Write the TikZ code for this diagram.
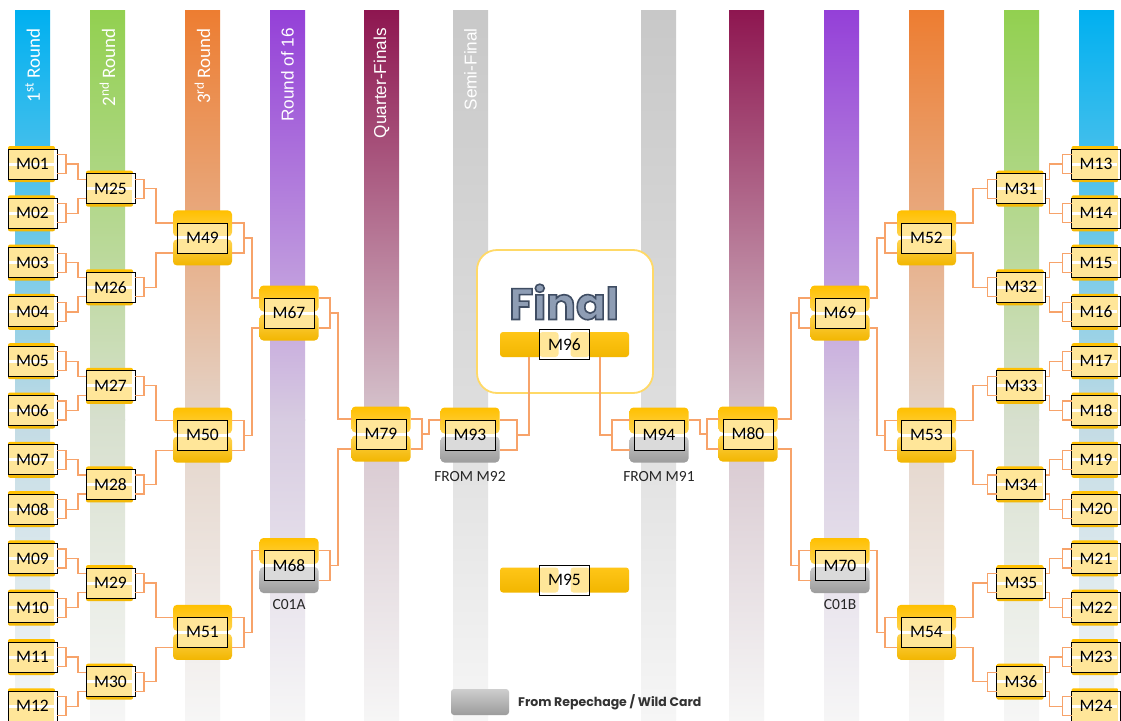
\documentclass[tikz,border=0pt]{standalone}
\usepackage{fontspec}
\setmainfont{Carlito}
\newfontfamily\arialf{Liberation Sans}
\newfontfamily\popf{Poppins}
\usetikzlibrary{calc}
\definecolor{cCyan}{HTML}{00B0F0}
\definecolor{cGreen}{HTML}{92D050}
\definecolor{cOrange}{HTML}{ED7D31}
\definecolor{cPurple}{HTML}{9440D8}
\definecolor{cMaroon}{HTML}{8E1650}
\definecolor{cSemi}{HTML}{C8C8C8}
\definecolor{barMid}{HTML}{E2E2E2}
\definecolor{barLow}{HTML}{F6F6F6}
\definecolor{goldA}{HTML}{FFC000}
\definecolor{goldB}{HTML}{FFD34F}
\definecolor{goldC}{HTML}{F2B600}
\definecolor{lightY}{HTML}{FFE699}
\definecolor{grayA}{HTML}{C8C8C8}
\definecolor{grayB}{HTML}{9C9C9C}
\definecolor{lightG}{HTML}{DADADA}
\definecolor{connC}{HTML}{F7A36A}
\definecolor{finalBorder}{HTML}{FFD966}
\definecolor{finalFill}{HTML}{8E9DB4}
\definecolor{legendText}{HTML}{333333}
\tikzset{
  conn/.style={draw=connC, line width=1.2pt},
  frameline/.style={draw=black, line width=0.9pt},
  mlabel/.style={inner sep=0pt, outer sep=0pt, font=\fontsize{17.5}{17.5}\selectfont},
  roundlabel/.style={rotate=90, anchor=east, inner sep=0pt, text=white},
  calrl/.style={roundlabel, font=\fontsize{19}{19}\selectfont},
  arialrl/.style={roundlabel, font=\arialf\fontsize{17.2}{17.2}\selectfont},
  sublabel/.style={inner sep=0pt, font=\fontsize{15.5}{15.5}\selectfont, text=black!85},
  slotgoldbot/.style={top color=goldB, bottom color=goldC},
  slotgraybot/.style={top color=grayA, bottom color=grayB},
  finaltxt/.style={inner sep=0pt, font=\popf\bfseries\fontsize{44}{44}\selectfont},
}
\newcommand\colbar[2]{%
  \shade[top color=#2, bottom color=#2!14!barMid] (#1,10) rectangle ++(35,410);
  \shade[top color=#2!14!barMid, bottom color=barLow] (#1,419) rectangle ++(35,301);
}
\newcommand\smatch[3]{%
  \shade[rounded corners=2pt, top color=goldA, bottom color=goldB] ({#2-24.5},{#3-18}) rectangle ({#2+22.5},{#3-1});
  \shade[rounded corners=2pt, top color=goldB, bottom color=goldC] ({#2-24.5},{#3+1}) rectangle ({#2+22.5},{#3+18});
  \fill[white] ({#2-24.5},{#3-15}) rectangle ({#2+24.5},{#3+15});
  \fill[lightY] ({#2-24.5},{#3-15}) rectangle ({#2+21.5},{#3+15});
  \fill[white] ({#2-24.5},{#3-1.5}) rectangle ({#2+21},{#3+1.5});
  \draw[frameline] ({#2-24.5},{#3-15}) rectangle ({#2+24.5},{#3+15});
  \node[mlabel, minimum width=49pt, minimum height=30pt] (#1) at (#2,#3) {#1};
}
\newcommand\bmatch[5]{%
  \shade[rounded corners=4pt, top color=goldA, bottom color=goldB] ({#2-29.5},{#3-27.5}) rectangle ({#2+29.5},{#3-1.5});
  \shade[rounded corners=4pt, #4] ({#2-29.5},{#3+1.5}) rectangle ({#2+29.5},{#3+27.5});
  \fill[lightY] ({#2-25},{#3-15}) rectangle ({#2+25},{#3});
  \fill[#5] ({#2-25},{#3}) rectangle ({#2+25},{#3+15});
  \fill[white] ({#2-25},{#3-1.5}) rectangle ({#2+25},{#3+1.5});
  \draw[frameline] ({#2-25},{#3-15}) rectangle ({#2+25},{#3+15});
  \node[mlabel, minimum width=59pt, minimum height=55pt] (#1) at (#2,#3) {#1};
}
\newcommand\hmatch[3]{%
  \shade[rounded corners=3pt, top color=goldA!70!goldB, bottom color=goldC] ({#2-64.5},{#3-12.5}) rectangle ({#2+64.5},{#3+12.5});
  \fill[white] ({#2-25},{#3-15}) rectangle ({#2+25},{#3+15});
  \fill[lightY, rounded corners=3pt] ({#2-25},{#3-12.5}) rectangle ({#2-6},{#3+12.5});
  \fill[lightY, rounded corners=3pt] ({#2+6},{#3-12.5}) rectangle ({#2+25},{#3+12.5});
  \draw[frameline] ({#2-25},{#3-15}) rectangle ({#2+25},{#3+15});
  \node[mlabel, minimum width=129pt, minimum height=25pt] (#1) at (#2,#3) {#1};
}
\newcommand\bracketR[3]{\draw[conn] ($(#1.east)+(0,-#2)$) -- ++(#3,0) -- ++(0,{2*#2}) -- ++(-#3,0);}
\newcommand\bracketL[3]{\draw[conn] ($(#1.west)+(0,-#2)$) -- ++(-#3,0) -- ++(0,{2*#2}) -- ++(#3,0);}
\newcommand\linkR[5]{\draw[conn] ($(#1.east)+(#2,0)$) -| ($(#3.west)+(-#5,#4)$) -- ($(#3.west)+(0,#4)$);}
\newcommand\linkL[5]{\draw[conn] ($(#1.west)+(-#2,0)$) -| ($(#3.east)+(#5,#4)$) -- ($(#3.east)+(0,#4)$);}
\newcommand\outlinedtext[1]{\special{pdf:literal direct 2 Tr 1.6 w 0.247 0.302 0.388 RG}#1\special{pdf:literal direct 0 Tr}}
\begin{document}
\begin{tikzpicture}[x=1pt, y=-1pt]
\useasboundingbox (0,0) rectangle (1121,720);
\fill[white] (0,0) rectangle (1121,720);
% column bars
\colbar{15}{cCyan}
\colbar{90}{cGreen}
\colbar{185}{cOrange}
\colbar{270}{cPurple}
\colbar{364}{cMaroon}
\colbar{453}{cSemi}
\colbar{641}{cSemi}
\colbar{729}{cMaroon}
\colbar{824}{cPurple}
\colbar{909}{cOrange}
\colbar{1004}{cGreen}
\colbar{1079}{cCyan}
% round labels
\node[calrl] (l1) at (32.5,28) {1\textsuperscript{st} Round};
\node[calrl] (l2) at (107.5,28) {2\textsuperscript{nd} Round};
\node[calrl] (l3) at (202.5,28) {3\textsuperscript{rd} Round};
\node[arialrl] (l4) at (287.5,28) {Round of 16};
\node[arialrl] (l5) at (381.5,28) {Quarter-Finals};
\node[arialrl] (l6) at (470.5,28) {Semi-Final};
% final box
\node[draw=finalBorder, line width=1.8pt, fill=white, rounded corners=20pt, minimum width=176pt, minimum height=143pt, inner sep=0pt] (finalbox) at (565,321.5) {};
\node[finaltxt, text=finalFill] (finaltitle) at (564,302) {\outlinedtext{Final}};
% left first round
\smatch{M01}{32.5}{164}
\smatch{M02}{32.5}{213.3}
\smatch{M03}{32.5}{262.6}
\smatch{M04}{32.5}{311.9}
\smatch{M05}{32.5}{361.2}
\smatch{M06}{32.5}{410.5}
\smatch{M07}{32.5}{459.8}
\smatch{M08}{32.5}{509.1}
\smatch{M09}{32.5}{558.4}
\smatch{M10}{32.5}{607.7}
\smatch{M11}{32.5}{657}
\smatch{M12}{32.5}{706.3}
% left second round
\smatch{M25}{110.5}{188.65}
\smatch{M26}{110.5}{287.25}
\smatch{M27}{110.5}{385.85}
\smatch{M28}{110.5}{484.45}
\smatch{M29}{110.5}{583.05}
\smatch{M30}{110.5}{681.65}
% left third round
\bmatch{M49}{202.5}{237.95}{slotgoldbot}{lightY}
\bmatch{M50}{202.5}{435.15}{slotgoldbot}{lightY}
\bmatch{M51}{202.5}{632.35}{slotgoldbot}{lightY}
% left R16, QF, SF
\bmatch{M67}{289}{313}{slotgoldbot}{lightY}
\bmatch{M68}{289}{565.5}{slotgraybot}{lightG}
\bmatch{M79}{381}{434}{slotgoldbot}{lightY}
\bmatch{M93}{470}{435}{slotgraybot}{lightG}
% right first round
\smatch{M13}{1096}{164}
\smatch{M14}{1096}{213.3}
\smatch{M15}{1096}{262.6}
\smatch{M16}{1096}{311.9}
\smatch{M17}{1096}{361.2}
\smatch{M18}{1096}{410.5}
\smatch{M19}{1096}{459.8}
\smatch{M20}{1096}{509.1}
\smatch{M21}{1096}{558.4}
\smatch{M22}{1096}{607.7}
\smatch{M23}{1096}{657}
\smatch{M24}{1096}{706.3}
% right second round
\smatch{M31}{1021}{188.65}
\smatch{M32}{1021}{287.25}
\smatch{M33}{1021}{385.85}
\smatch{M34}{1021}{484.45}
\smatch{M35}{1021}{583.05}
\smatch{M36}{1021}{681.65}
% right third round
\bmatch{M52}{926.5}{237.95}{slotgoldbot}{lightY}
\bmatch{M53}{926.5}{435.15}{slotgoldbot}{lightY}
\bmatch{M54}{926.5}{632.35}{slotgoldbot}{lightY}
% right R16, QF, SF
\bmatch{M69}{840}{313}{slotgoldbot}{lightY}
\bmatch{M70}{840}{565.5}{slotgraybot}{lightG}
\bmatch{M80}{748}{434}{slotgoldbot}{lightY}
\bmatch{M94}{659}{435}{slotgraybot}{lightG}
% final and third place
\hmatch{M96}{564.5}{344.5}
\hmatch{M95}{564.5}{580}
% sub labels
\node[sublabel] (fromA) at (470,477) {FROM M92};
\node[sublabel] (fromB) at (659,477) {FROM M91};
\node[sublabel] (c01a) at (289,605) {C01A};
\node[sublabel] (c01b) at (840,605) {C01B};
% connectors left
\foreach \a/\b/\t in {M01/M02/M25, M03/M04/M26, M05/M06/M27, M07/M08/M28, M09/M10/M29, M11/M12/M30}{
  \bracketR{\a}{9.5}{9}
  \bracketR{\b}{9.5}{9}
  \linkR{\a}{9}{\t}{-9.5}{8}
  \linkR{\b}{9}{\t}{9.5}{8}
}
\foreach \a/\b/\t in {M25/M26/M49, M27/M28/M50, M29/M30/M51}{
  \bracketR{\a}{9.5}{9}
  \bracketR{\b}{9.5}{9}
  \linkR{\a}{9}{\t}{-15}{17}
  \linkR{\b}{9}{\t}{15}{17}
}
\bracketR{M49}{15}{12}
\bracketR{M50}{15}{12}
\bracketR{M51}{15}{12}
\linkR{M49}{12}{M67}{-15}{7.5}
\linkR{M50}{12}{M67}{15}{7.5}
\linkR{M51}{12}{M68}{-15}{7.5}
\bracketR{M67}{15}{11.5}
\bracketR{M68}{15}{11.5}
\linkR{M67}{11.5}{M79}{-15}{13.5}
\linkR{M68}{11.5}{M79}{15}{13.5}
\bracketR{M79}{15}{11.5}
\linkR{M79}{11.5}{M93}{-15}{11.5}
\bracketR{M93}{15}{17.5}
\draw[conn] ($(M93.east)+(17.5,0)$) -| ($(M96.south)+(-35.5,0)$);
% connectors right
\foreach \a/\b/\t in {M13/M14/M31, M15/M16/M32, M17/M18/M33, M19/M20/M34, M21/M22/M35, M23/M24/M36}{
  \bracketL{\a}{9.5}{9}
  \bracketL{\b}{9.5}{9}
  \linkL{\a}{9}{\t}{-9.5}{4}
  \linkL{\b}{9}{\t}{9.5}{4}
}
\foreach \a/\b/\t in {M31/M32/M52, M33/M34/M53, M35/M36/M54}{
  \bracketL{\a}{9.5}{9}
  \bracketL{\b}{9.5}{9}
  \linkL{\a}{9}{\t}{-15}{17}
  \linkL{\b}{9}{\t}{15}{17}
}
\bracketL{M52}{15}{12}
\bracketL{M53}{15}{12}
\bracketL{M54}{15}{12}
\linkL{M52}{12}{M69}{-15}{7.5}
\linkL{M53}{12}{M69}{15}{7.5}
\linkL{M54}{12}{M70}{-15}{7.5}
\bracketL{M69}{15}{11.5}
\bracketL{M70}{15}{11.5}
\linkL{M69}{11.5}{M80}{-15}{13.5}
\linkL{M70}{11.5}{M80}{15}{13.5}
\bracketL{M80}{15}{11.5}
\linkL{M80}{11.5}{M94}{-15}{11.5}
\bracketL{M94}{15}{17.5}
\draw[conn] ($(M94.west)+(-17.5,0)$) -| ($(M96.south)+(35.5,0)$);
% legend
\shade[rounded corners=3pt, top color=grayA!90!white, bottom color=grayB] (451,689) rectangle (509,715);
\node[anchor=west, inner sep=0pt, text=legendText, font=\popf\bfseries\fontsize{12.5}{12.5}\selectfont] (legend) at (518,702.5) {From Repechage / Wild Card};
\end{tikzpicture}
\end{document}
